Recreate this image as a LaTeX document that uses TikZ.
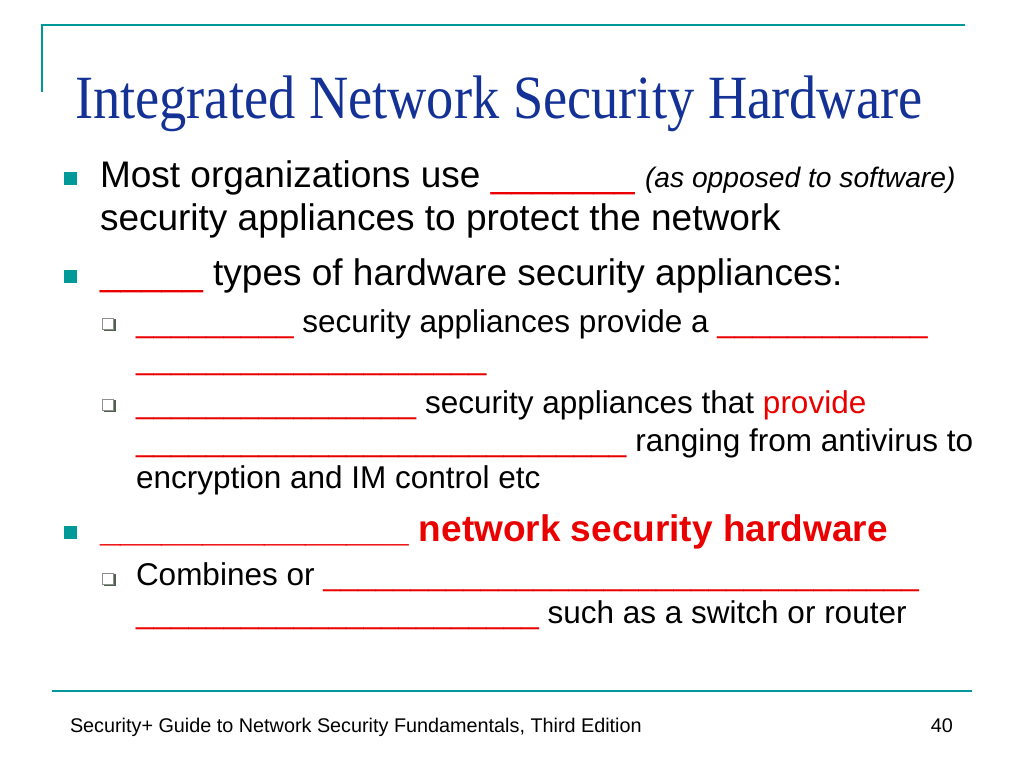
\documentclass[tikz,border=0pt]{standalone}
\usepackage{fontspec}
\setmainfont{Liberation Sans}
\newfontfamily\titlefont{Liberation Serif}
\definecolor{teal1}{RGB}{0,153,153}
\definecolor{titleblue}{RGB}{20,50,150}
\definecolor{redb}{RGB}{235,0,0}
\definecolor{subgray}{RGB}{140,145,140}
\definecolor{subshadow}{RGB}{80,95,80}
\newcommand{\bodysz}{\fontsize{37}{44}\selectfont}
\newcommand{\subsz}{\fontsize{31.5}{37}\selectfont}
\newcommand{\rb}[1]{\textcolor{redb}{#1}}
\begin{document}
\begin{tikzpicture}[x=1pt,y=-1pt,
  txt/.style={anchor=base west,inner sep=0pt,outer sep=0pt,text=black},
  rule/.style={draw=teal1,line width=2.2pt},
  mainbullet/.style={fill=teal1,draw=none,minimum size=13pt,inner sep=0pt},
  subshad/.style={fill=subshadow,draw=none,minimum size=12pt,inner sep=0pt},
  subbox/.style={fill=white,draw=subgray,line width=1.3pt,minimum size=10.5pt,inner sep=0pt}]
\useasboundingbox (0,0) rectangle (1024,768);
% decoration lines
\coordinate (tl) at (42,25);
\coordinate (tr) at (965,25);
\coordinate (vb) at (42,92);
\draw[rule,line width=2pt] (vb) -- (tl) -- (tr);
\coordinate (bl) at (52,691);
\coordinate (br) at (972,691);
\draw[rule,line width=2.5pt] (bl) -- (br);
% title
\node[txt,text=titleblue] (title) at (75,118) {\titlefont\fontsize{54.4}{60}\selectfont\scalebox{1}[1.13]{Integrated Network Security Hardware}};
% main bullets
\node[mainbullet] (b1) at (70,178) {};
\node[mainbullet] (b2) at (70,276) {};
\node[mainbullet] (b3) at (70,532) {};
% sub bullets
\foreach \n/\yy in {s1/324,s2/405,s3/579}{
  \node[subshad] (\n sh) at (109.5,\yy+1.2) {};
  \node[subbox] (\n) at (108,\yy) {};
}
% text lines
\node[txt] (l1) at (100,187) {\bodysz Most organizations use \rb{\_\_\_\_\_\_\_} {\fontsize{28.2}{34}\selectfont\itshape (as opposed to software)}};
\node[txt] (l2) at (100,230) {\bodysz security appliances to protect the network};
\node[txt] (l3) at (100,285) {\bodysz \rb{\_\_\_\_\_} types of hardware security appliances:};
\node[txt] (l4) at (136,332) {\subsz \rb{\_\_\_\_\_\_\_\_\_} security appliances provide a \rb{\_\_\_\_\_\_\_\_\_\_\_\_}};
\node[txt] (l5) at (136,369) {\subsz \rb{\_\_\_\_\_\_\_\_\_\_\_\_\_\_\_\_\_\_\_\_}};
\node[txt] (l6) at (136,413) {\subsz \rb{\_\_\_\_\_\_\_\_\_\_\_\_\_\_\_\_} security appliances that \rb{provide}};
\node[txt] (l7) at (136,451) {\subsz \rb{\_\_\_\_\_\_\_\_\_\_\_\_\_\_\_\_\_\_\_\_\_\_\_\_\_\_\_\_} ranging from antivirus to};
\node[txt] (l8) at (136,488) {\subsz encryption and IM control etc};
\node[txt] (l9) at (100,541) {\bodysz\bfseries \rb{\_\_\_\_\_\_\_\_\_\_\_\_\_\_\_ network security hardware}};
\node[txt] (l10) at (136,585) {\subsz Combines or \rb{\_\_\_\_\_\_\_\_\_\_\_\_\_\_\_\_\_\_\_\_\_\_\_\_\_\_\_\_\_\_\_\_\_\_}};
\node[txt] (l11) at (136,623) {\subsz \rb{\_\_\_\_\_\_\_\_\_\_\_\_\_\_\_\_\_\_\_\_\_\_\_} such as a switch or router};
% footer
\node[txt] (foot) at (70,732) {\fontsize{19.8}{24}\selectfont Security+ Guide to Network Security Fundamentals, Third Edition};
\node[anchor=base east,inner sep=0pt] (pg) at (953,732) {\fontsize{19.8}{24}\selectfont 40};
\end{tikzpicture}
\end{document}
